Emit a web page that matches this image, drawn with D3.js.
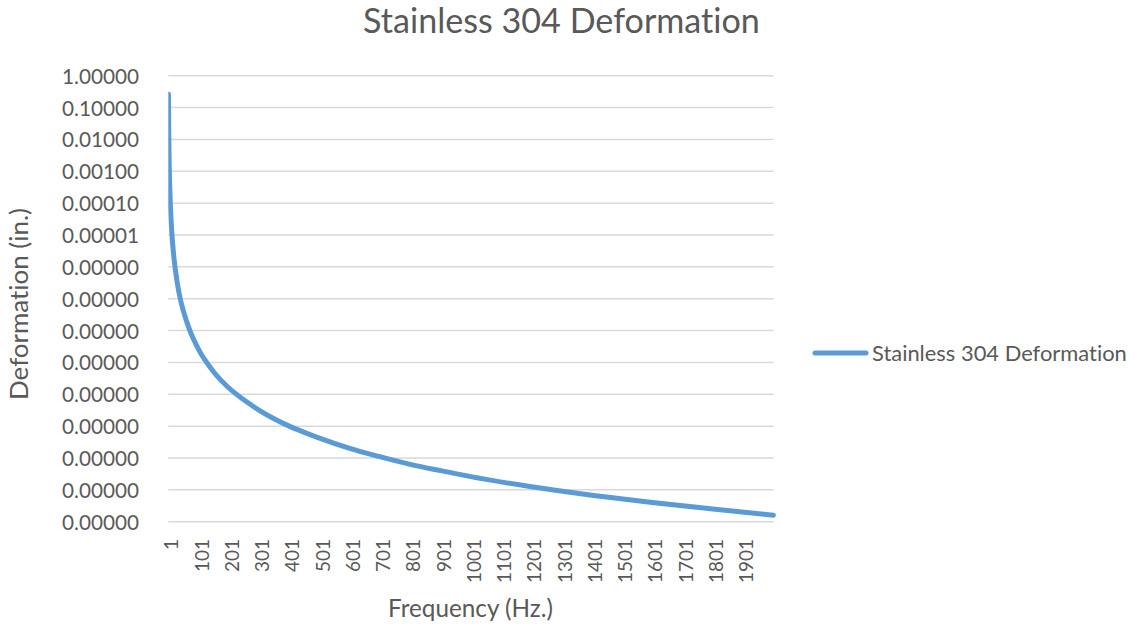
<!DOCTYPE html>
<html>
<head>
<meta charset="utf-8">
<script src="https://cdn.jsdelivr.net/npm/d3@7"></script>
<style>
  html, body { margin: 0; padding: 0; background: #fff; }
  svg { display: block; }
  text { font-family: Lato, "Open Sans", "Liberation Sans", sans-serif; fill: #595959;
         font-variant-ligatures: none; font-feature-settings: "liga" 0, "clig" 0; }
</style>
</head>
<body>
<svg id="chart" width="1135" height="627"></svg>
<script>
// Frequency sweep (Hz) and the deformation read at each frequency (in.)
const frequencies = [1, 2, 3, 4, 5, 7, 10, 15, 20, 30, 40, 50, 70, 100, 150, 200, 250, 300, 350, 400,
                     450, 500, 600, 700, 800, 900, 1000, 1200, 1400, 1600, 1800, 2000];
const deformation = [0.26, 0.016, 3.2e-3, 1.0e-3, 4.2e-4, 1.1e-4, 2.6e-5, 5.1e-6, 1.6e-6, 3.2e-7,
                     1.0e-7, 4.2e-8, 1.1e-8, 2.6e-9, 5.1e-10, 1.6e-10, 6.7e-11, 3.2e-11, 1.7e-11, 1.0e-11,
                     6.4e-12, 4.2e-12, 2.0e-12, 1.1e-12, 6.3e-13, 4.0e-13, 2.6e-13, 1.25e-13, 6.8e-14,
                     4.0e-14, 2.5e-14, 1.6e-14];
// Category axis: 2000 frequency steps, labelled every 100
const frequencyCount = 2000;
const xTickLabels = [1, 101, 201, 301, 401, 501, 601, 701, 801, 901, 1001, 1101, 1201, 1301, 1401,
                     1501, 1601, 1701, 1801, 1901];
// Log axis ticks, one per decade
const yTickValues = [1, 1e-1, 1e-2, 1e-3, 1e-4, 1e-5, 1e-6, 1e-7, 1e-8, 1e-9, 1e-10, 1e-11, 1e-12, 1e-13, 1e-14];

const seriesName = "Stainless 304 Deformation";
const chartTitle = "Stainless 304 Deformation";
const xTitle = "Frequency (Hz.)";
const yTitle = "Deformation (in.)";

const svg = d3.select("#chart");
const plot = { left: 168.3, right: 773.5, top: 75.7, bottom: 521.7 };

const x = d3.scaleLinear().domain([0.5, frequencyCount + 0.5]).range([plot.left, plot.right]);
const y = d3.scaleLog().domain([1e-14, 1]).range([plot.bottom, plot.top]);

// Scale a text's font size so it spans the requested width
function fitFont(sel, width) {
  const node = sel.node();
  const base = parseFloat(sel.style("font-size"));
  const w = node.getComputedTextLength();
  const size = base * width / w;
  sel.style("font-size", size + "px");
  return size;
}

// Title
const title = svg.append("text")
  .attr("x", 561.5).attr("y", 33)
  .attr("text-anchor", "middle")
  .style("font-size", "30px")
  .text(chartTitle);
fitFont(title, 397);

// Horizontal gridlines
const grid = svg.append("g");
grid.selectAll("line").data(yTickValues).join("line")
  .attr("x1", plot.left).attr("x2", plot.right)
  .attr("y1", d => y(d)).attr("y2", d => y(d))
  .attr("stroke", "#d9d9d9").attr("stroke-width", 1.5);

// Y axis tick labels
const probe = svg.append("text").style("font-size", "20px").text("1.00000");
const yTickSize = fitFont(probe, 77);
probe.remove();

const yAxis = d3.axisLeft(y).tickValues(yTickValues).tickFormat(d3.format(".5f")).tickSize(0).tickPadding(0);
const yAxisG = svg.append("g").attr("transform", `translate(${139},0)`).call(yAxis);
yAxisG.select(".domain").remove();
yAxisG.selectAll("text")
  .attr("fill", null)
  .style("font-family", "Lato, 'Open Sans', sans-serif")
  .style("font-size", yTickSize + "px")
  .attr("dy", "0.36em");

// X axis category labels, rotated
const probeX = svg.append("text").style("font-size", "20px").text("1901");
const xTickSize = fitFont(probeX, 44);
probeX.remove();

const xAxis = d3.axisBottom(x).tickValues(xTickLabels).tickFormat(d3.format("d")).tickSize(0).tickPadding(0);
const xAxisG = svg.append("g").attr("transform", `translate(0,${539})`).call(xAxis);
xAxisG.select(".domain").remove();
xAxisG.selectAll("text")
  .attr("fill", null)
  .style("font-family", "Lato, 'Open Sans', sans-serif")
  .style("font-size", xTickSize + "px")
  .attr("text-anchor", "end")
  .attr("transform", "translate(2.5,0) rotate(-90)")
  .attr("x", 0).attr("y", 0)
  .attr("dy", "0.36em");

// Axis titles
const xt = svg.append("text")
  .attr("x", 470.5).attr("y", 617)
  .attr("text-anchor", "middle")
  .style("font-size", "22px")
  .text(xTitle);
fitFont(xt, 165);

const yt = svg.append("text")
  .attr("transform", `translate(28,304) rotate(-90)`)
  .attr("text-anchor", "middle")
  .style("font-size", "22px")
  .text(yTitle);
fitFont(yt, 192);

// Series line, clipped to the plot area
svg.append("clipPath").attr("id", "plotClip")
  .append("rect")
  .attr("x", plot.left).attr("y", plot.top - 30)
  .attr("width", plot.right - plot.left + 10).attr("height", plot.bottom - plot.top + 40);

const series = frequencies.map((f, i) => ({ f, v: deformation[i] }));
const line = d3.line()
  .x(d => x(d.f))
  .y(d => y(d.v))
  .curve(d3.curveMonotoneX);

svg.append("path")
  .datum(series)
  .attr("clip-path", "url(#plotClip)")
  .attr("d", line)
  .attr("fill", "none")
  .attr("stroke", "#5b9bd5")
  .attr("stroke-width", 5)
  .attr("stroke-linejoin", "round")
  .attr("stroke-linecap", "round");

// Legend
const legend = svg.append("g");
legend.append("line")
  .attr("x1", 815).attr("x2", 866)
  .attr("y1", 353).attr("y2", 353)
  .attr("stroke", "#5b9bd5").attr("stroke-width", 5)
  .attr("stroke-linecap", "round");
const lt = legend.append("text")
  .attr("x", 872).attr("y", 353)
  .attr("dy", "0.36em")
  .style("font-size", "20px")
  .text(seriesName);
fitFont(lt, 255);
</script>
</body>
</html>
